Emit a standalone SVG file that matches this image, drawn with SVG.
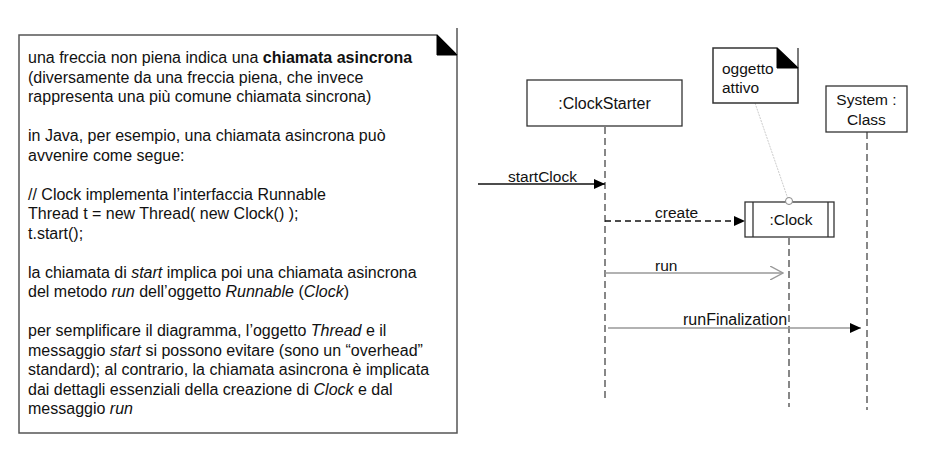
<svg xmlns="http://www.w3.org/2000/svg" width="926" height="451" viewBox="0 0 926 451">
<defs>
<style>
text{font-family:"Liberation Sans",Arial,sans-serif;font-size:15.5px;fill:#111}
.t{font-size:16px}
.note{fill:#fff;stroke:#555;stroke-width:1.5}
.fold{fill:#000;stroke:#000;stroke-width:1}
.box{fill:#fff;stroke:#333;stroke-width:1.3}
.life{stroke:#555;stroke-width:1.4;stroke-dasharray:7 4;fill:none}
.msg{stroke:#111;stroke-width:1.3;fill:none}
.gmsg{stroke:#999;stroke-width:1.5;fill:none}
.b{font-weight:bold}
.i{font-style:italic}
</style>
<marker id="filled" markerWidth="12" markerHeight="10" refX="11" refY="5" orient="auto" markerUnits="userSpaceOnUse">
<path d="M0,0 L11,5 L0,10 Z" fill="#000"/>
</marker>
<marker id="open" markerWidth="14" markerHeight="14" refX="13" refY="7" orient="auto" markerUnits="userSpaceOnUse">
<path d="M0,0 L13,7 L0,14" fill="none" stroke="#999" stroke-width="1.4"/>
</marker>
</defs>
<rect width="926" height="451" fill="#fff"/>

<g id="note-main">
<path class="note" d="M19,35 L437,35 L457,55 L457,433 L19,433 Z"/>
<line x1="457" y1="28" x2="457" y2="55" stroke="#555" stroke-width="1.5"/>
<path class="fold" d="M437,35 L437,55 L457,55 Z"/>
<text class="t" x="28" y="63">una freccia non piena indica una <tspan class="b">chiamata asincrona</tspan></text>
<text class="t" x="28" y="82.5">(diversamente da una freccia piena, che invece</text>
<text class="t" x="28" y="102">rappresenta una più comune chiamata sincrona)</text>
<text class="t" x="28" y="141">in Java, per esempio, una chiamata asincrona può</text>
<text class="t" x="28" y="160.5">avvenire come segue:</text>
<text class="t" x="28" y="199.5">// Clock implementa l’interfaccia Runnable</text>
<text class="t" x="28" y="219">Thread t = new Thread( new Clock() );</text>
<text class="t" x="28" y="238.5">t.start();</text>
<text class="t" x="28" y="277.5">la chiamata di <tspan class="i">start</tspan> implica poi una chiamata asincrona</text>
<text class="t" x="28" y="297">del metodo <tspan class="i">run</tspan> dell’oggetto <tspan class="i">Runnable</tspan> (<tspan class="i">Clock</tspan>)</text>
<text class="t" x="28" y="336">per semplificare il diagramma, l’oggetto <tspan class="i">Thread</tspan> e il</text>
<text class="t" x="28" y="355.5">messaggio <tspan class="i">start</tspan> si possono evitare (sono un “overhead”</text>
<text class="t" x="28" y="375">standard); al contrario, la chiamata asincrona è implicata</text>
<text class="t" x="28" y="394.5">dai dettagli essenziali della creazione di <tspan class="i">Clock</tspan> e dal</text>
<text class="t" x="28" y="414">messaggio <tspan class="i">run</tspan></text>
</g>

<g id="connectors">
<line class="life" x1="605" y1="127" x2="605" y2="400"/>
<line class="life" x1="789" y1="238" x2="789" y2="407"/>
<line class="life" x1="867" y1="132" x2="867" y2="410"/>
<line x1="755" y1="103" x2="788" y2="199" stroke="#ccc" stroke-width="1" stroke-dasharray="2 1"/>
<line class="msg" x1="478" y1="184" x2="605" y2="184" marker-end="url(#filled)"/>
<line class="msg" x1="605" y1="221" x2="745" y2="221" stroke-dasharray="6 4" stroke-width="1.6" marker-end="url(#filled)"/>
<line class="gmsg" x1="605" y1="273" x2="783" y2="273" marker-end="url(#open)"/>
<line class="gmsg" x1="608" y1="328" x2="861" y2="328" marker-end="url(#filled)"/>
<text x="508" y="182">startClock</text>
<text x="655" y="218">create</text>
<text x="655" y="271">run</text>
<text x="683" y="325" class="t">runFinalization</text>
</g>

<g id="clockstarter">
<rect class="box" x="527" y="80" width="155" height="46"/>
<text x="604.5" y="109" text-anchor="middle" style="font-size:16px">:ClockStarter</text>
</g>

<g id="note-active">
<path class="note" d="M713,48 L777,48 L798,68 L798,103 L713,103 Z" style="stroke:#333"/>
<line x1="798" y1="48" x2="798" y2="68" stroke="#333" stroke-width="1.3"/>
<path class="fold" d="M777,48 L777,68 L798,68 Z"/>
<text x="722" y="74">oggetto</text>
<text x="722" y="93">attivo</text>
</g>

<g id="clock">
<rect class="box" x="745" y="202" width="89" height="35"/>
<line x1="753" y1="202" x2="753" y2="237" stroke="#333" stroke-width="1.3"/>
<line x1="828" y1="202" x2="828" y2="237" stroke="#333" stroke-width="1.3"/>
<circle cx="789" cy="201" r="3.5" fill="#fff" stroke="#888" stroke-width="1"/>
<text x="791" y="225" text-anchor="middle">:Clock</text>
</g>

<g id="system">
<rect class="box" x="826" y="86" width="81" height="46"/>
<text x="866.5" y="105" text-anchor="middle">System :</text>
<text x="866.5" y="125" text-anchor="middle">Class</text>
</g>
</svg>
